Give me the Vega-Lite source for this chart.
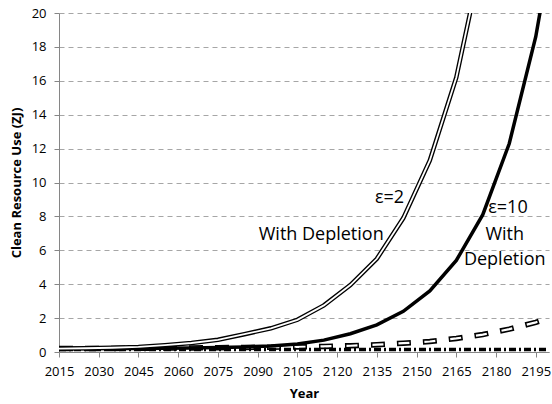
{
  "$schema": "https://vega.github.io/schema/vega-lite/v6.json",
  "width": 490,
  "height": 339,
  "autosize": {"type": "none"},
  "padding": {"left": 59, "top": 13, "right": 3, "bottom": 52},
  "background": "white",
  "config": {"view": {"stroke": null}, "font": "Open Sans"},
  "datasets": {
    "double": [
      {"year": 2015, "value": 0.2}, {"year": 2025, "value": 0.22}, {"year": 2035, "value": 0.25},
      {"year": 2045, "value": 0.3}, {"year": 2055, "value": 0.4}, {"year": 2065, "value": 0.53},
      {"year": 2075, "value": 0.72}, {"year": 2085, "value": 1.05}, {"year": 2095, "value": 1.4},
      {"year": 2105, "value": 1.9}, {"year": 2115, "value": 2.75}, {"year": 2125, "value": 3.95},
      {"year": 2135, "value": 5.5}, {"year": 2145, "value": 7.9}, {"year": 2155, "value": 11.3},
      {"year": 2165, "value": 16.2}, {"year": 2175, "value": 23.5}
    ],
    "solid": [
      {"year": 2015, "value": 0.2}, {"year": 2025, "value": 0.2}, {"year": 2035, "value": 0.2},
      {"year": 2045, "value": 0.21}, {"year": 2055, "value": 0.22}, {"year": 2065, "value": 0.24},
      {"year": 2075, "value": 0.26}, {"year": 2085, "value": 0.3}, {"year": 2095, "value": 0.36},
      {"year": 2105, "value": 0.47}, {"year": 2115, "value": 0.7}, {"year": 2125, "value": 1.08},
      {"year": 2135, "value": 1.6}, {"year": 2145, "value": 2.4}, {"year": 2155, "value": 3.6},
      {"year": 2165, "value": 5.4}, {"year": 2175, "value": 8.1}, {"year": 2185, "value": 12.3},
      {"year": 2195, "value": 18.6}, {"year": 2205, "value": 27.5}
    ],
    "dashed": [
      {"year": 2015, "value": 0.2}, {"year": 2025, "value": 0.2}, {"year": 2035, "value": 0.21},
      {"year": 2045, "value": 0.22}, {"year": 2055, "value": 0.23}, {"year": 2065, "value": 0.24},
      {"year": 2075, "value": 0.25}, {"year": 2085, "value": 0.27}, {"year": 2095, "value": 0.28},
      {"year": 2105, "value": 0.3}, {"year": 2115, "value": 0.33}, {"year": 2125, "value": 0.37},
      {"year": 2135, "value": 0.43}, {"year": 2145, "value": 0.52}, {"year": 2155, "value": 0.62},
      {"year": 2165, "value": 0.8}, {"year": 2175, "value": 1.03}, {"year": 2185, "value": 1.35},
      {"year": 2195, "value": 1.75}, {"year": 2205, "value": 2.25}
    ],
    "dashdot": [
      {"year": 2015, "value": 0.15}, {"year": 2065, "value": 0.15}, {"year": 2115, "value": 0.15},
      {"year": 2165, "value": 0.15}, {"year": 2200, "value": 0.15}
    ],
    "labels": [
      {"year": 2139.8, "value": 9.1, "label": "ε=2"},
      {"year": 2114, "value": 6.9, "label": "With Depletion"},
      {"year": 2184.5, "value": 8.5, "label": "ε=10"},
      {"year": 2183.3, "value": 6.9, "label": "With"},
      {"year": 2183.3, "value": 5.4, "label": "Depletion"}
    ]
  },
  "encoding": {
    "x": {
      "field": "year", "type": "quantitative",
      "scale": {"domain": [2015, 2200], "nice": false, "zero": false},
      "axis": {
        "values": [2015, 2030, 2045, 2060, 2075, 2090, 2105, 2120, 2135, 2150, 2165, 2180, 2195],
        "format": "d", "grid": false, "labelFontSize": 13, "labelColor": "#000000",
        "labelPadding": 8, "tickSize": 5, "tickColor": "#868686", "domainColor": "#868686",
        "title": "Year", "titleFontSize": 13, "titleFontWeight": "bold", "titleColor": "#000000",
        "titlePadding": 9, "labelFlush": false, "labelOverlap": false
      }
    },
    "y": {
      "field": "value", "type": "quantitative",
      "scale": {"domain": [0, 20], "nice": false},
      "axis": {
        "values": [0, 2, 4, 6, 8, 10, 12, 14, 16, 18, 20],
        "grid": true, "gridDash": [5, 4], "gridColor": "#a6a6a6",
        "labelFontSize": 13, "labelColor": "#000000", "labelPadding": 8,
        "tickSize": 5, "tickColor": "#868686", "domainColor": "#868686",
        "title": "Clean Resource Use (ZJ)", "titleFontSize": 13, "titleFontWeight": "bold",
        "titleColor": "#000000", "titlePadding": 8
      }
    }
  },
  "layer": [
    {"data": {"name": "dashed"}, "mark": {"type": "line", "clip": true, "color": "#000000", "strokeWidth": 5.5, "strokeDash": [14, 12], "strokeCap": "butt"}},
    {"data": {"name": "dashed"}, "mark": {"type": "line", "clip": true, "color": "#ffffff", "strokeWidth": 2.2, "strokeDash": [11, 15], "strokeDashOffset": -1.5, "strokeCap": "butt"}},
    {"data": {"name": "dashdot"}, "mark": {"type": "line", "clip": true, "color": "#000000", "strokeWidth": 3.5, "strokeDash": [7, 3, 2, 3]}},
    {"data": {"name": "solid"}, "mark": {"type": "line", "clip": true, "color": "#000000", "strokeWidth": 3.5}},
    {"data": {"name": "double"}, "mark": {"type": "line", "clip": true, "color": "#000000", "strokeWidth": 4.5}},
    {"data": {"name": "double"}, "mark": {"type": "line", "clip": true, "color": "#ffffff", "strokeWidth": 1.8}},
    {"data": {"name": "labels"}, "mark": {"type": "text", "font": "Open Sans", "fontSize": 18, "color": "#000000", "align": "center", "baseline": "middle"}, "encoding": {"text": {"field": "label"}}}
  ]
}
